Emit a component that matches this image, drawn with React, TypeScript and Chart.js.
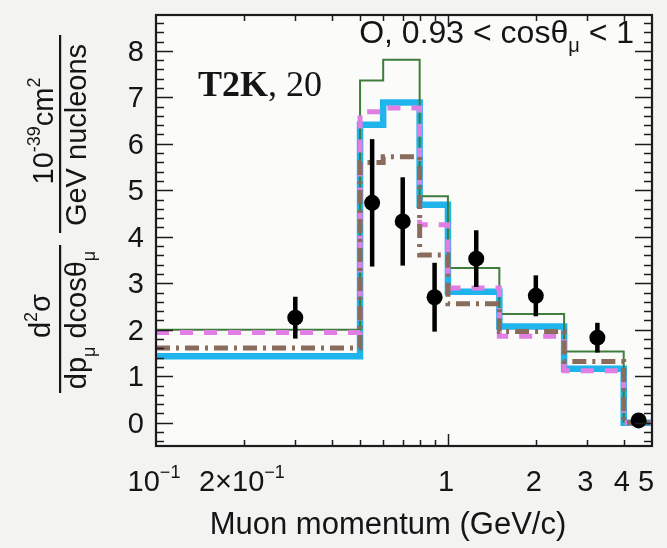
import React, { useEffect, useRef } from "react";
import { Chart, registerables } from "chart.js";

Chart.register(...registerables);

// ---------- data ----------
const binEdges = [0.1, 0.5, 0.6, 0.8, 1.0, 1.5, 2.5, 4.0, 5.0];
const modelGreen = [2.0, 7.36, 7.81, 4.87, 3.33, 2.34, 1.53, 0.02];
const modelCyan = [1.43, 6.41, 6.89, 4.69, 2.82, 2.07, 1.16, 0.0];
const modelMagenta = [1.94, 6.69, 6.77, 4.26, 2.9, 1.86, 1.12, 0.0];
const modelBrown = [1.61, 5.6, 5.72, 3.61, 2.56, 1.96, 1.32, 0.0];

const dataMomentum = [0.3, 0.55, 0.7, 0.9, 1.25, 2.0, 3.25, 4.5];
const dataValues = [2.26, 4.73, 4.33, 2.7, 3.53, 2.73, 1.83, 0.05];
const dataErrors = [0.45, 1.37, 0.95, 0.74, 0.61, 0.44, 0.32, 0.0];

const yTickValues = [0, 1, 2, 3, 4, 5, 6, 7, 8];
const xTickValues = [0.1, 0.2, 1, 2, 3, 4, 5];
const xTickMantissa = ["10", "2\u00d710", "1", "2", "3", "4", "5"];
const xTickExponent = ["\u22121", "\u22121", "", "", "", "", ""];

const xTitle = "Muon momentum (GeV/c)";
const regionLabel = "O, 0.93 < cos\u03b8";

const SANS = '"Liberation Sans", Arial, Helvetica, sans-serif';
const SERIF = '"Liberation Serif", "Times New Roman", serif';

type Run = { t: string; scale?: number; dy?: number; family?: string; weight?: string };

function runsWidth(ctx: CanvasRenderingContext2D, runs: Run[], size: number, family: string) {
  let w = 0;
  for (const r of runs) {
    ctx.font = `${r.weight || "normal"} ${Math.round(size * (r.scale || 1))}px ${r.family || family}`;
    w += ctx.measureText(r.t).width;
  }
  return w;
}

function drawRuns(
  ctx: CanvasRenderingContext2D,
  runs: Run[],
  x: number,
  y: number,
  align: "left" | "center" | "right",
  size: number,
  family: string
) {
  const w = runsWidth(ctx, runs, size, family);
  let cx = align === "left" ? x : align === "center" ? x - w / 2 : x - w;
  ctx.textAlign = "left";
  ctx.textBaseline = "alphabetic";
  for (const r of runs) {
    ctx.font = `${r.weight || "normal"} ${Math.round(size * (r.scale || 1))}px ${r.family || family}`;
    ctx.fillText(r.t, cx, y + (r.dy || 0) * size);
    cx += ctx.measureText(r.t).width;
  }
}

const rootStyle = {
  id: "rootStyle",
  beforeDraw(chart: any) {
    const { ctx, chartArea: a } = chart;
    ctx.save();
    ctx.fillStyle = "#f3f3f1";
    ctx.fillRect(0, 0, chart.width, chart.height);
    ctx.fillStyle = "#fbfbfa";
    ctx.fillRect(a.left, a.top, a.right - a.left, a.bottom - a.top);
    ctx.restore();
  },
  beforeDatasetDraw(chart: any, args: any) {
    if (args.index !== 0) return;
    const { ctx, chartArea: a } = chart;
    const xs = chart.scales.x;
    const ys = chart.scales.y;
    ctx.save();
    ctx.beginPath();
    ctx.rect(a.left, a.top, a.right - a.left, a.bottom - a.top);
    ctx.clip();
    ctx.strokeStyle = "#000";
    ctx.lineWidth = 4.5;
    for (let i = 0; i < dataMomentum.length; i++) {
      const e = dataErrors[i];
      if (e <= 0) continue;
      const px = xs.getPixelForValue(dataMomentum[i]);
      ctx.beginPath();
      ctx.moveTo(px, ys.getPixelForValue(dataValues[i] - e));
      ctx.lineTo(px, ys.getPixelForValue(dataValues[i] + e));
      ctx.stroke();
    }
    ctx.restore();
  },
  afterDatasetsDraw(chart: any) {
    const { ctx, chartArea: a } = chart;
    const xs = chart.scales.x;
    const ys = chart.scales.y;
    ctx.save();
    ctx.strokeStyle = "#1c1c1c";
    ctx.lineWidth = 1.5;
    // y ticks, left and right
    for (let k = -2; k <= 44; k++) {
      const v = k * 0.2;
      if (v < ys.min || v > ys.max) continue;
      const py = Math.round(ys.getPixelForValue(v)) + 0.5;
      const major = k % 5 === 0;
      const len = major ? 17 : 8;
      ctx.beginPath();
      ctx.moveTo(a.left, py);
      ctx.lineTo(a.left + len, py);
      ctx.moveTo(a.right, py);
      ctx.lineTo(a.right - len, py);
      ctx.stroke();
    }
    // x ticks (log), bottom and top
    for (const dec of [0.1, 1]) {
      for (let d = 1; d <= 9; d++) {
        const v = d * dec;
        if (v <= xs.min || v >= xs.max) continue;
        const px = Math.round(xs.getPixelForValue(v)) + 0.5;
        const len = d === 1 ? 12 : 6;
        ctx.beginPath();
        ctx.moveTo(px, a.bottom);
        ctx.lineTo(px, a.bottom - len);
        ctx.moveTo(px, a.top);
        ctx.lineTo(px, a.top + len);
        ctx.stroke();
      }
    }
    // frame
    ctx.lineWidth = 2.2;
    ctx.strokeRect(a.left, a.top, a.right - a.left, a.bottom - a.top);
    ctx.restore();
  },
  afterDraw(chart: any) {
    const { ctx, chartArea: a } = chart;
    const xs = chart.scales.x;
    const ys = chart.scales.y;
    ctx.save();
    ctx.fillStyle = "#151515";
    // y tick labels
    ctx.font = `29px ${SANS}`;
    ctx.textAlign = "right";
    ctx.textBaseline = "middle";
    for (const v of yTickValues) {
      ctx.fillText(String(v), a.left - 12, ys.getPixelForValue(v) + 2);
    }
    // x tick labels
    for (let i = 0; i < xTickValues.length; i++) {
      const runs: Run[] = [{ t: xTickMantissa[i] }];
      if (xTickExponent[i]) runs.push({ t: xTickExponent[i], scale: 0.62, dy: -0.45 });
      const px = xs.getPixelForValue(xTickValues[i]);
      drawRuns(ctx, runs, px - (i === xTickValues.length - 1 ? 6 : 2), 491, "center", 29, SANS);
    }
    // x title
    drawRuns(ctx, [{ t: xTitle }], 388, 534, "center", 31, SANS);
    // region label
    drawRuns(
      ctx,
      [{ t: regionLabel }, { t: "\u03bc", scale: 0.62, dy: 0.28 }, { t: " < 1" }],
      634,
      43,
      "right",
      31.5,
      SANS
    );
    // T2K label
    drawRuns(
      ctx,
      [{ t: "T2K", weight: "bold" }, { t: ", 20" }],
      198,
      96,
      "left",
      36,
      SERIF
    );
    // y title (rotated)
    ctx.save();
    ctx.translate(60, 0);
    ctx.rotate(-Math.PI / 2);
    ctx.fillStyle = "#151515";
    ctx.fillRect(-393, -1, 148, 2.2);
    ctx.fillRect(-233, -1, 198, 2.2);
    drawRuns(ctx, [{ t: "d" }, { t: "2", scale: 0.62, dy: -0.45 }, { t: "\u03c3" }], -316, -10, "center", 29, SANS);
    drawRuns(
      ctx,
      [
        { t: "dp" },
        { t: "\u03bc", scale: 0.62, dy: 0.3 },
        { t: " dcos\u03b8" },
        { t: "\u03bc", scale: 0.62, dy: 0.3 },
      ],
      -320,
      26,
      "center",
      29,
      SANS
    );
    drawRuns(
      ctx,
      [{ t: "10" }, { t: "-39", scale: 0.62, dy: -0.45 }, { t: "cm" }, { t: "2", scale: 0.62, dy: -0.45 }],
      -131,
      -7,
      "center",
      29,
      SANS
    );
    drawRuns(ctx, [{ t: "GeV nucleons" }], -135, 26, "center", 29, SANS);
    ctx.restore();
    ctx.restore();
  },
};

function stepPoints(vals: number[]) {
  const pts = vals.map((v, i) => ({ x: binEdges[i], y: v }));
  pts.push({ x: binEdges[binEdges.length - 1], y: vals[vals.length - 1] });
  return pts;
}

export default function App() {
  const ref = useRef<HTMLCanvasElement | null>(null);
  useEffect(() => {
    if (!ref.current) return;
    const histo = (vals: number[], color: string, width: number, dash: number[]) => ({
      type: "line" as const,
      data: stepPoints(vals),
      borderColor: color,
      borderWidth: width,
      borderDash: dash,
      borderCapStyle: "butt" as const,
      borderJoinStyle: "miter" as const,
      stepped: true,
      pointRadius: 0,
      fill: false,
      tension: 0,
    });
    const chart = new Chart(ref.current, {
      type: "line",
      data: {
        datasets: [
          {
            type: "line",
            data: dataMomentum.map((m, i) => ({ x: m, y: dataValues[i] })),
            showLine: false,
            pointRadius: 8,
            pointBackgroundColor: "#000",
            pointBorderColor: "#000",
            pointBorderWidth: 0,
          } as any,
          histo(modelBrown, "#8a6c5c", 5, [14, 6, 3, 6]),
          histo(modelMagenta, "#e07ee4", 5, [13, 11]),
          histo(modelGreen, "#3e7e3a", 2, []),
          histo(modelCyan, "#20b4ec", 6.5, []),
        ],
      },
      options: {
        animation: false,
        responsive: false,
        devicePixelRatio: 1,
        layout: { padding: { left: 156, right: 15, top: 15, bottom: 102 } },
        plugins: { legend: { display: false }, tooltip: { enabled: false } },
        scales: {
          x: { type: "logarithmic", min: 0.1, max: 5, display: false },
          y: { type: "linear", min: -0.5, max: 8.77, display: false },
        },
      },
      plugins: [rootStyle],
    });
    return () => chart.destroy();
  }, []);
  return (
    <div style={{ position: "fixed", left: 0, top: 0, width: 667, height: 548 }}>
      <canvas ref={ref} width={667} height={548} />
    </div>
  );
}
